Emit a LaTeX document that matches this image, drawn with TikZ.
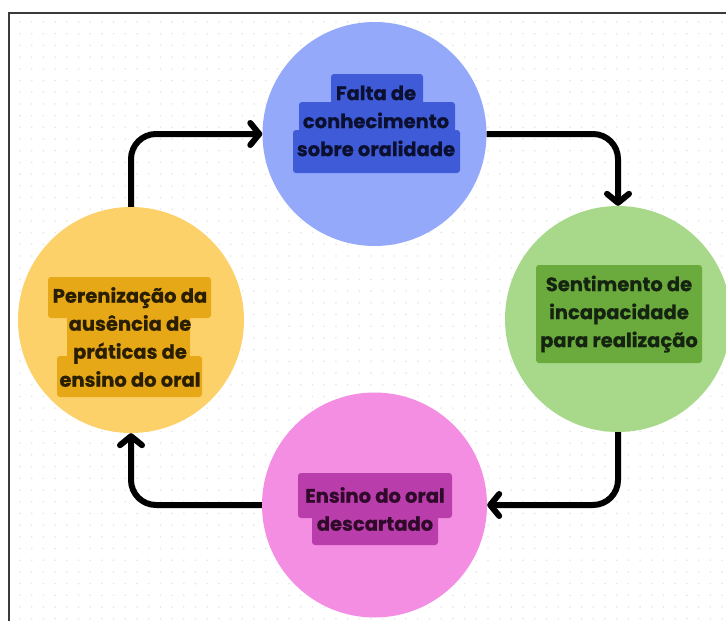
\documentclass[tikz,border=0pt]{standalone}
\usepackage{fontspec}
\setmainfont{Poppins}[BoldFeatures={FakeBold=0.6}]
\usetikzlibrary{arrows.meta}
\definecolor{bluecirc}{HTML}{95A9FB}
\definecolor{bluebox}{HTML}{3F5BD8}
\definecolor{bluetxt}{HTML}{0B1030}
\definecolor{grncirc}{HTML}{A8D98A}
\definecolor{grnbox}{HTML}{6BAA3C}
\definecolor{grntxt}{HTML}{142410}
\definecolor{yelcirc}{HTML}{FDD16A}
\definecolor{yelbox}{HTML}{E6A817}
\definecolor{yeltxt}{HTML}{2A1E00}
\definecolor{pinkcirc}{HTML}{F38EE3}
\definecolor{pinkbox}{HTML}{B93DAA}
\definecolor{pinktxt}{HTML}{300A2A}
\definecolor{dotcol}{HTML}{E6E6E6}
\definecolor{framecol}{HTML}{3A3A3A}
\begin{document}
\begin{tikzpicture}[x=1pt,y=-1pt,
  blob/.style={circle, inner sep=0pt, minimum size=#1},
  lbl/.style={align=center, inner sep=0pt, font=\fontsize{19.5}{28}\selectfont\bfseries},
  hl/.style={rounded corners=3pt},
  arr/.style={line width=6pt, rounded corners=25pt, -{Straight Barb[length=9pt,width=22pt,round]}}]
\useasboundingbox (0,0) rectangle (726,621);
\fill[white] (0,0) rectangle (726,621);
% dotted background
\foreach \i in {0,...,60} {
  \foreach \j in {0,...,51} {
    \fill[dotcol] (20+11.7*\i, 22+11.7*\j) circle (0.9);
  }
}
% frame
\draw[framecol, line width=2pt] (9,621) -- (9,13) -- (727,13);
% circles
\node[blob=224pt, fill=bluecirc] (blue) at (374.5,134) {};
\node[blob=226pt, fill=grncirc] (grn) at (618,319) {};
\node[blob=226pt, fill=yelcirc] (yel) at (131,320) {};
\node[blob=225pt, fill=pinkcirc] (pink) at (374.5,505) {};
% highlight boxes
\fill[bluebox, hl] (331,74) rectangle (423,105);
\fill[bluebox, hl] (299,102) rectangle (455,133);
\fill[bluebox, hl] (293,130) rectangle (460,173);
\fill[grnbox, hl] (536,265) rectangle (702,363);
\fill[yelbox, hl] (48,277) rectangle (211,318);
\fill[yelbox, hl] (67,314) rectangle (190,360);
\fill[yelbox, hl] (57,356) rectangle (202,397);
\fill[pinkbox, hl] (298,473) rectangle (452,518);
\fill[pinkbox, hl] (312,515) rectangle (438,545);
% texts
\node[lbl, text=bluetxt] (tblue) at (376,121) {Falta de\\conhecimento\\sobre oralidade};
\node[lbl, text=grntxt] (tgrn) at (619,314) {Sentimento de\\incapacidade\\para realização};
\node[lbl, text=yeltxt] (tyel) at (130,337) {Perenização da\\ausência de\\práticas de\\ensino do oral};
\node[lbl, text=pinktxt] (tpink) at (375,509) {Ensino do oral\\descartado};
% connectors
\draw[arr] (yel.north) |- (blue.west);
\draw[arr] (blue.east) -| (grn.north);
\draw[arr] (grn.south) |- (pink.east);
\draw[arr] (pink.west) -| (yel.south);
\end{tikzpicture}
\end{document}
